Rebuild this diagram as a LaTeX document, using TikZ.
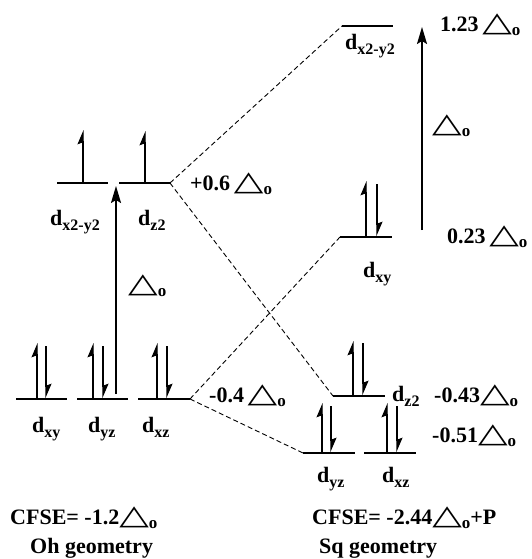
\documentclass[tikz,border=0pt]{standalone}
\usepackage{fontspec}
\setmainfont{Liberation Serif}
\newfontfamily\symf{DejaVu Sans}
\usepackage{graphicx}
\usetikzlibrary{arrows.meta}
\newcommand\tri{{\symf\scalebox{1.75}[1.25]{△}}}
\newcommand\subo{\raisebox{-4pt}{\fontsize{17}{17}\selectfont o}}
\newcommand\DO{\tri\subo}
\newcommand\dl[1]{d\raisebox{-5pt}{\fontsize{16}{16}\selectfont #1}}
\begin{document}
\begin{tikzpicture}[x=1pt,y=-1pt,
 every node/.style={inner sep=0pt, anchor=base west, font=\fontsize{22}{26}\selectfont\bfseries},
 level/.style={line width=1.3pt},
 conn/.style={line width=0.9pt, dash pattern=on 5pt off 3pt},
 elec/.style={line width=1.1pt, -{Stealth[length=13pt,width=11pt,inset=2pt,harpoon]}},
 gap/.style={line width=1.8pt, -{Stealth[length=17pt,width=10pt,inset=3pt]}}]
\useasboundingbox (0,0) rectangle (532,559);
% level end points
\coordinate (eg1L) at (57,183); \coordinate (eg1R) at (108,183);
\coordinate (eg2L) at (119,183); \coordinate (eg2R) at (170,183);
\coordinate (t1L) at (16,399); \coordinate (t1R) at (67,399);
\coordinate (t2L) at (77,399); \coordinate (t2R) at (128,399);
\coordinate (t3L) at (138,399); \coordinate (t3R) at (190,399);
\coordinate (sxL) at (342,26); \coordinate (sxR) at (393,26);
\coordinate (sxyL) at (340,237); \coordinate (sxyR) at (392,237);
\coordinate (szL) at (333,396); \coordinate (szR) at (385,396);
\coordinate (syzL) at (303,453); \coordinate (syzR) at (355,453);
\coordinate (sxzL) at (364,453); \coordinate (sxzR) at (416,453);
% levels
\foreach \a in {eg1,eg2,t1,t2,t3,sx,sxy,sz,syz,sxz}
  \draw[level] (\a L) -- (\a R);
% correlation lines
\draw[conn] (eg2R) -- (sxL);
\draw[conn] (eg2R) -- (szL);
\draw[conn] (t3R) -- (sxyL);
\draw[conn] (t3R) -- (syzL);
% electrons Oh
\draw[elec] (83,182) -- (83,130);
\draw[elec] (145,182) -- (145,131);
\foreach \u/\d in {37/46,93/103,157/167}{
  \draw[elec] (\u,398) -- (\u,343);
  \draw[elec] (\d,346) -- (\d,398);
}
% electrons Sq
\draw[elec] (366,236) -- (366,181);
\draw[elec] (377,184) -- (377,236);
\draw[elec] (353,395) -- (353,341);
\draw[elec] (363,343) -- (363,395);
\foreach \u/\d in {322/331,387/397}{
  \draw[elec] (\u,452) -- (\u,403);
  \draw[elec] (\d,406) -- (\d,452);
}
% splitting arrows
\coordinate (gOa) at (116,394); \coordinate (gOb) at (116,186);
\coordinate (gSa) at (422,230); \coordinate (gSb) at (422,27);
\draw[gap] (gOa) -- (gOb);
\draw[gap] (gSa) -- (gSb);
% labels Oh
\node (lx) at (50,225) {\dl{x2-y2}};
\node (lz) at (138,225) {\dl{z2}};
\node (p06) at (190,190) {+0.6\,\DO};
\node (dO) at (128,292) {\DO};
\node (lxy) at (32,432) {\dl{xy}};
\node (lyz) at (88,432) {\dl{yz}};
\node (lxz) at (142,432) {\dl{xz}};
\node (m04) at (209,402) {-0.4\,\DO};
% labels Sq
\node (slx) at (345,50) {\dl{x2-y2}};
\node (p123) at (440,32) {1.23\,\DO};
\node (dS) at (432,132) {\DO};
\node (p023) at (447,243) {0.23\,\DO};
\node (slxy) at (363,277) {\dl{xy}};
\node (slz) at (392,401) {\dl{z2}};
\node (m043) at (434,402) {-0.43\DO};
\node (m051) at (432,442) {-0.51\DO};
\node (slyz) at (317,482) {\dl{yz}};
\node (slxz) at (382,482) {\dl{xz}};
% bottom
\node (cO) at (10,524) {CFSE= -1.2\DO};
\node (gO) at (30,553) {Oh geometry};
\node (cS) at (312,524) {CFSE= -2.44\DO+P};
\node (gS) at (319,553) {Sq geometry};
\end{tikzpicture}
\end{document}
